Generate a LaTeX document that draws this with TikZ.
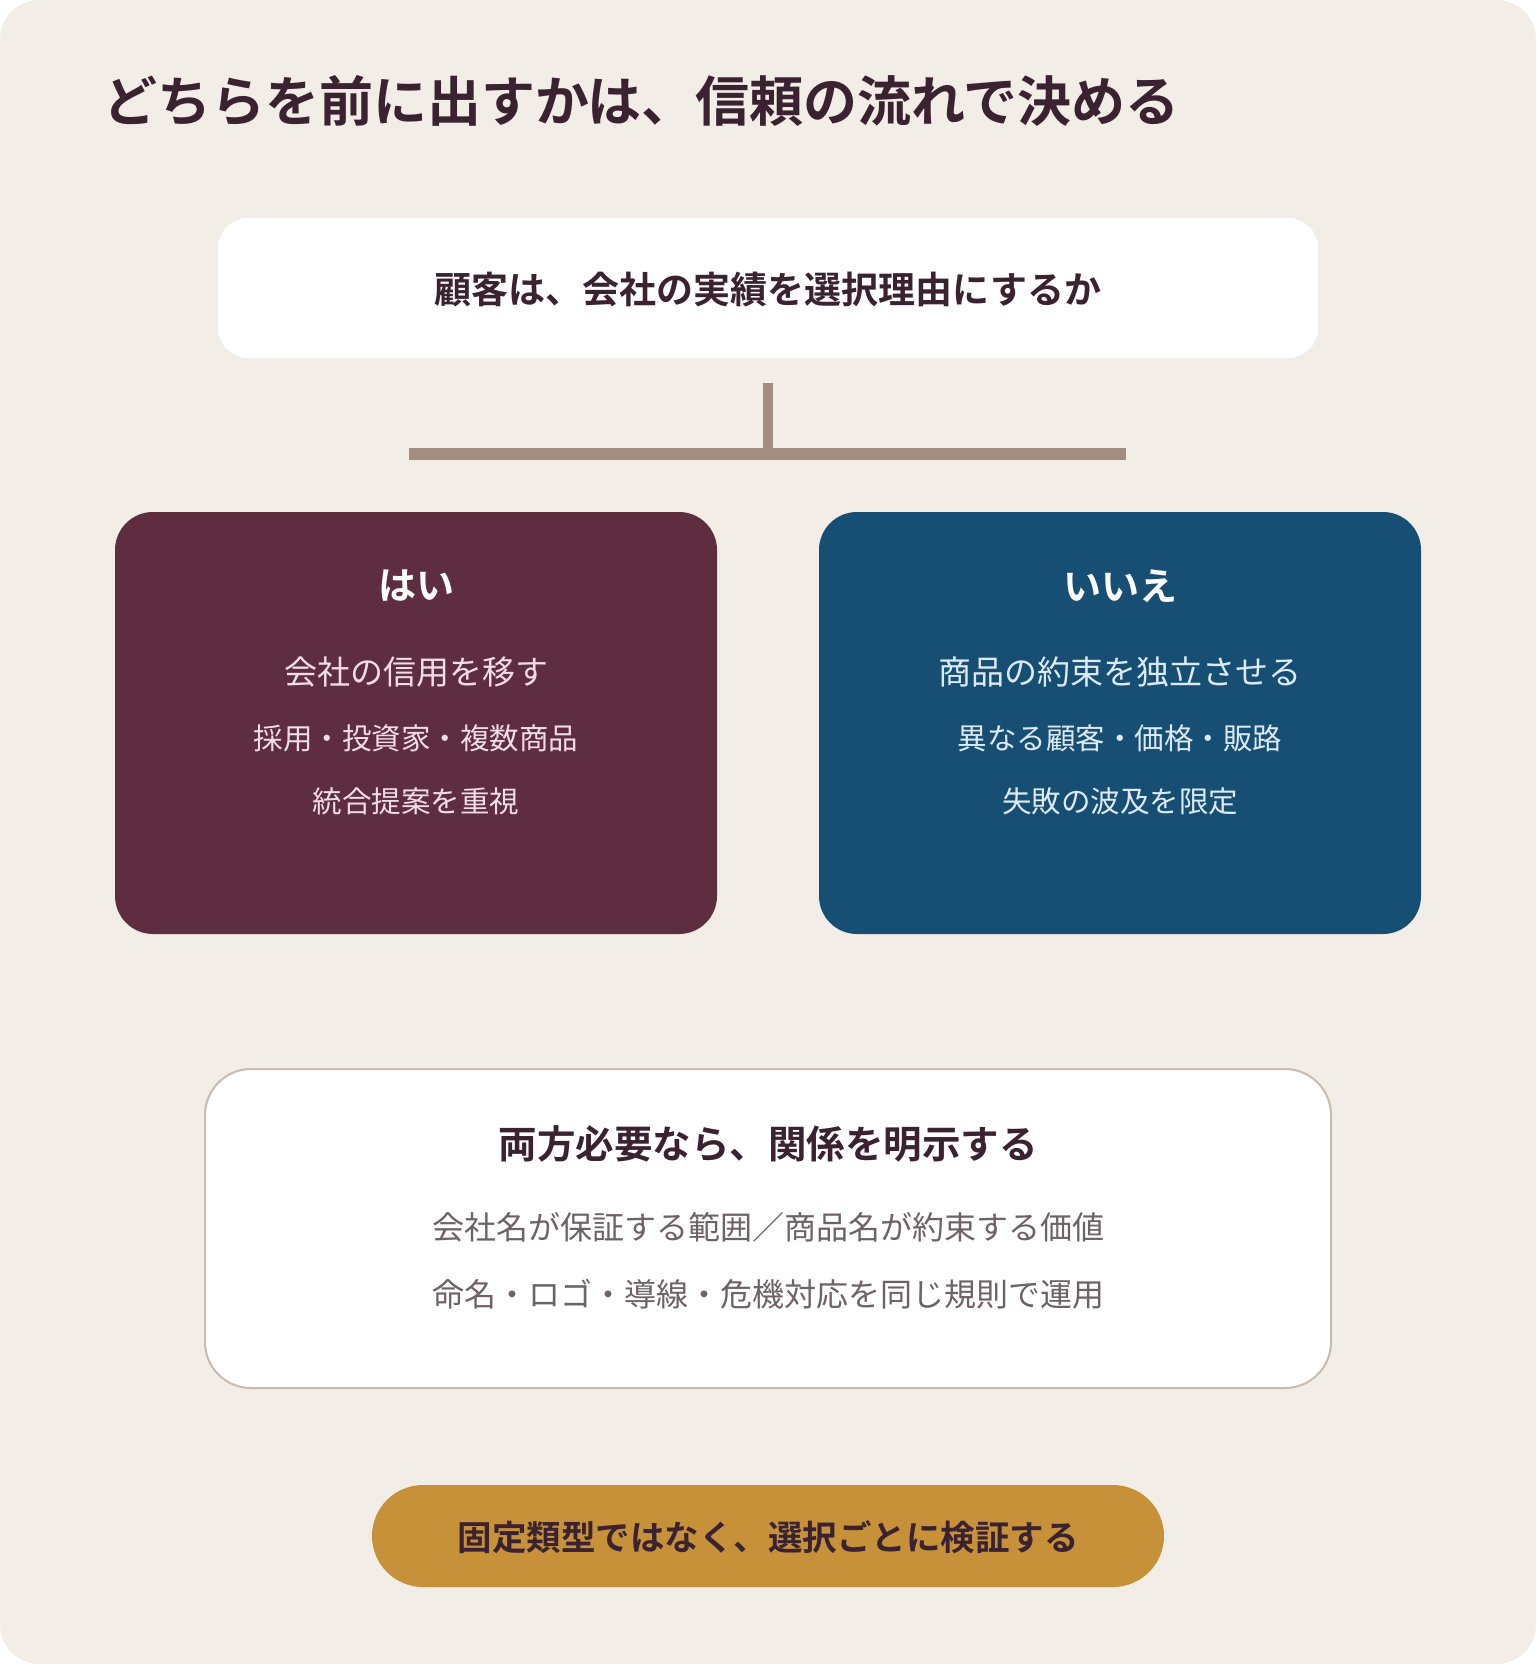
\documentclass[tikz,border=0pt]{standalone}
\usepackage{fontspec}
\setmainfont{Noto Sans CJK JP}[BoldFont={Noto Sans CJK JP Bold}]
\definecolor{bgc}{HTML}{F2EDE7}
\definecolor{ink}{HTML}{3A2230}
\definecolor{yesc}{HTML}{5F2D40}
\definecolor{noc}{HTML}{174E73}
\definecolor{treec}{HTML}{A38D80}
\definecolor{edgec}{HTML}{C9BBAE}
\definecolor{goldc}{HTML}{C69139}
\definecolor{graytxt}{HTML}{6F6266}
\definecolor{yestxt}{HTML}{F1DDE5}
\definecolor{notxt}{HTML}{DDEAF4}
\tikzset{
  titletext/.style={text=ink, font=\fontsize{54}{54}\selectfont\bfseries, anchor=west, inner sep=0},
  qbox/.style={fill=white, rounded corners=30pt, draw=none},
  ansbox/.style={rounded corners=38pt, draw=none},
  headw/.style={text=white, font=\fontsize{38}{38}\selectfont\bfseries, inner sep=0},
  bodyl/.style={font=\fontsize{#1}{#1}\selectfont, inner sep=0},
  boldl/.style={text=ink, font=\fontsize{#1}{#1}\selectfont\bfseries, inner sep=0},
}
\begin{document}
\begin{tikzpicture}[x=1pt,y=-1pt]
\useasboundingbox (0,0) rectangle (1536,1664);
\fill[bgc, rounded corners=40pt] (0,0) rectangle (1536,1664);
% title
\node[titletext] (title) at (103,101) {どちらを前に出すかは、信頼の流れで決める};
% question box
\path[qbox] (218,218) rectangle (1318,358);
\node[boldl=37] (q) at (768,290) {顧客は、会社の実績を選択理由にするか};
% tree
\coordinate (t0) at (768,383);
\coordinate (t1) at (768,452);
\coordinate (tl) at (409,454);
\coordinate (tr) at (1126,454);
\draw[draw=treec, line width=10pt] (t0) -- (t1);
\draw[draw=treec, line width=12pt] (tl) -- (tr);
% yes box
\fill[yesc, ansbox] (115,512) rectangle (717,934);
\node[headw] (yh) at (416,586) {はい};
\node[bodyl=33, text=yestxt] (y1) at (416,672) {会社の信用を移す};
\node[bodyl=29.5, text=yestxt] (y2) at (416,738) {採用・投資家・複数商品};
\node[bodyl=29.5, text=yestxt] (y3) at (416,801) {統合提案を重視};
% no box
\fill[noc, ansbox] (819,512) rectangle (1421,934);
\node[headw] (nh) at (1120,586) {いいえ};
\node[bodyl=33, text=notxt] (n1) at (1120,672) {商品の約束を独立させる};
\node[bodyl=29.5, text=notxt] (n2) at (1120,738) {異なる顧客・価格・販路};
\node[bodyl=29.5, text=notxt] (n3) at (1120,801) {失敗の波及を限定};
% both box
\draw[fill=white, draw=edgec, line width=2pt, rounded corners=46pt] (205,1069) rectangle (1331,1388);
\node[boldl=38.5] (bh) at (768,1144) {両方必要なら、関係を明示する};
\node[bodyl=32, text=graytxt] (b1) at (768,1227) {会社名が保証する範囲／商品名が約束する価値};
\node[bodyl=32, text=graytxt] (b2) at (768,1294) {命名・ロゴ・導線・危機対応を同じ規則で運用};
% gold pill
\fill[goldc, rounded corners=51pt] (372,1485) rectangle (1164,1587);
\node[boldl=34.5] (g) at (768,1537) {固定類型ではなく、選択ごとに検証する};
\end{tikzpicture}
\end{document}
